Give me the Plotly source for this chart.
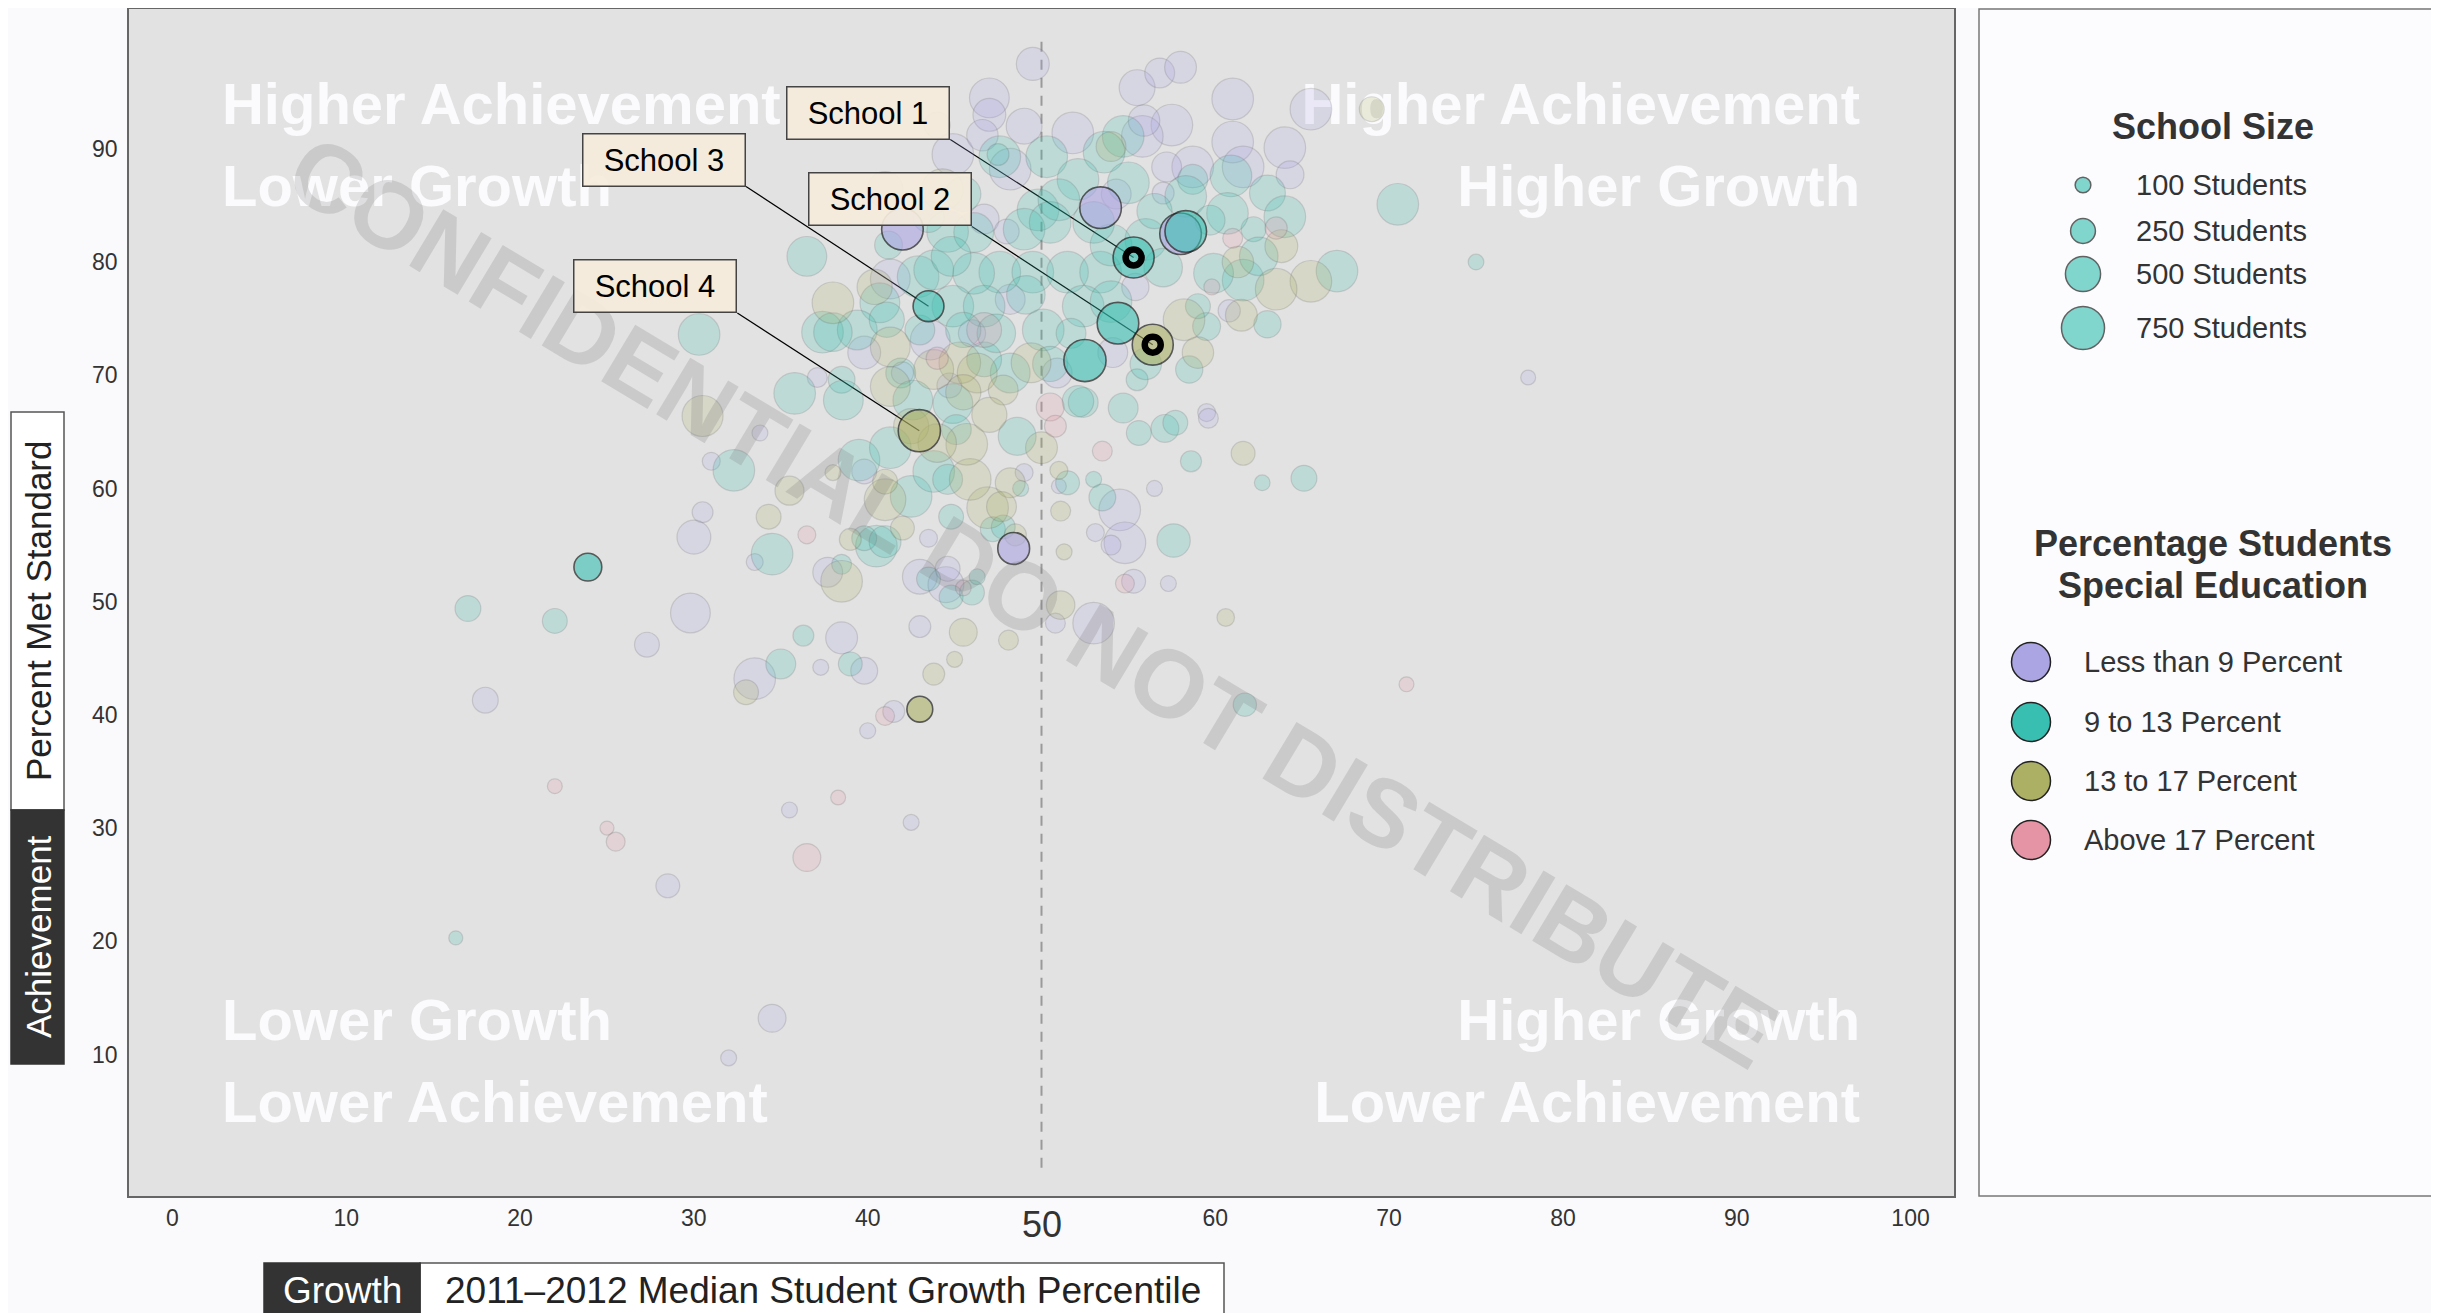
import plotly.graph_objects as go

W, H = 2439, 1313          # screen size of the reference
OFF = 8                    # page margin around the figure
FW, FH = W - OFF, H - OFF  # figure size
FONT = "Liberation Sans, Arial, Helvetica, sans-serif"

# ---------------- data (growth percentile, percent met standard, enrollment) ----------------
lav_growth = [49.5, 55.5, 56.8, 58.0, 61.0, 65.5, 51.8, 49.0, 57.5, 55.8,
              61.0, 64.0, 48.2, 58.7, 57.2, 61.6, 64.3, 57.0, 47.0, 47.0,
              44.9, 46.7, 41.3, 39.8, 43.6, 37.1, 48.0, 48.2, 54.1, 59.5,
              33.8, 31.0, 30.5, 30.0, 33.5, 37.7, 39.8, 43.5, 43.0, 44.5,
              44.6, 43.0, 29.8, 27.3, 38.5, 33.5, 37.3, 39.8, 41.5, 40.0,
              18.0, 28.5, 34.5, 32.0, 35.5, 42.5, 50.8, 53.0, 54.5, 53.1,
              54.8, 54.0, 55.3, 57.3, 59.6, 56.5, 51.0, 49.0, 78.0, 46.6,
              55.9, 46.0, 44.7, 42.0, 54.3, 55.4, 60.8, 50.9]
lav_ach = [97.5, 95.4, 96.7, 97.2, 94.4, 93.5, 91.4, 92.0, 92.1, 91.1,
           90.6, 90.1, 88.2, 88.4, 88.4, 88.4, 87.7, 86.1, 94.5, 93.0,
           89.5, 83.8, 78.5, 72.0, 73.1, 69.8, 82.7, 76.7, 72.0, 66.7,
           64.9, 62.4, 57.9, 55.7, 53.5, 52.6, 61.5, 55.6, 52.2, 51.5,
           52.9, 47.8, 49.0, 46.2, 46.8, 43.2, 44.2, 43.9, 40.3, 38.6,
           41.3, 24.9, 13.2, 9.7, 31.6, 30.5, 48.1, 48.1, 58.1, 56.1,
           55.2, 55.0, 51.8, 51.6, 66.2, 60.0, 60.2, 61.4, 69.8, 91.2,
           92.5, 73.7, 69.1, 70.2, 86.0, 77.8, 75.7, 70.2]
lav_size = [440, 520, 360, 410, 700, 700, 700, 520, 700, 700,
            700, 700, 700, 700, 360, 700, 314, 194, 640, 436,
            700, 360, 640, 436, 640, 160, 250, 360, 360, 130,
            103, 130, 177, 463, 116, 360, 250, 130, 490, 520,
            250, 194, 640, 250, 410, 700, 103, 292, 194, 103,
            270, 230, 314, 103, 103, 103, 160, 700, 700, 130,
            700, 160, 230, 103, 160, 103, 90, 130, 90, 400,
            400, 300, 250, 200, 360, 300, 200, 360]

teal_growth = [54.7, 53.6, 50.3, 60.9, 58.7, 55.0, 52.1, 49.8, 51.0, 58.3,
               63.0, 64.0, 62.2, 60.7, 59.7, 67.0, 61.6, 59.9, 59.5, 59.0,
               70.5, 47.6, 49.0, 50.5, 47.6, 49.5, 51.5, 53.4, 52.4, 50.1,
               51.7, 55.5, 52.4, 54.7, 48.2, 47.5, 41.2, 44.6, 46.1, 36.5,
               42.9, 43.8, 46.1, 40.7, 44.9, 46.7, 37.4, 39.4, 43.0, 46.7,
               30.3, 35.8, 38.5, 41.9, 38.6, 42.6, 44.9, 32.3, 34.5, 38.5,
               40.5, 39.8, 41.0, 42.5, 44.8, 47.2, 39.5, 43.8, 44.6, 45.1,
               41.3, 43.5, 44.8, 46.0, 46.3, 36.3, 35.0, 39.0, 17.0, 22.0,
               16.3, 57.6, 61.7, 65.1, 62.7, 58.6, 55.6, 57.1, 57.7, 53.0,
               53.5, 51.5, 48.6, 48.8, 47.8, 75.0, 49.1, 47.4, 52.1, 38.0,
               41.1, 56.0, 54.0, 57.0, 53.0, 56.5, 45.5, 44.8, 62.5, 63.0,
               58.5, 56.0, 54.0, 50.5, 43.5, 45.5]
teal_ach = [91.1, 89.7, 89.3, 87.6, 87.3, 87.0, 87.3, 84.6, 85.5, 85.8,
            86.1, 84.0, 82.9, 84.3, 83.7, 79.2, 78.4, 79.0, 74.3, 76.1,
            85.1, 89.3, 82.9, 83.5, 79.1, 79.1, 79.1, 79.1, 76.1, 74.0,
            73.7, 69.6, 67.6, 67.1, 70.2, 89.5, 81.5, 82.7, 82.6, 80.5,
            78.7, 79.3, 79.0, 76.4, 76.1, 76.1, 73.8, 74.0, 74.0, 71.4,
            73.6, 68.4, 69.6, 70.2, 67.8, 67.8, 67.5, 61.6, 54.2, 53.3,
            54.9, 55.6, 55.3, 59.3, 57.5, 56.4, 62.5, 61.5, 60.8, 65.2,
            63.6, 52.0, 50.4, 50.8, 52.2, 47.0, 44.5, 44.5, 49.4, 48.3,
            20.3, 55.4, 40.9, 60.9, 60.5, 62.4, 64.9, 65.3, 65.8, 60.8,
            59.2, 60.5, 64.6, 60.0, 56.6, 80.0, 77.1, 73.7, 67.7, 73.8,
            74.9, 82.0, 81.5, 79.5, 83.5, 84.5, 86.0, 80.5, 80.5, 74.5,
            70.5, 71.0, 76.5, 71.0, 84.0, 74.0]
teal_size = [700, 700, 700, 700, 360, 700, 700, 700, 700, 700,
             520, 700, 250, 700, 360, 700, 700, 640, 314, 250,
             700, 700, 700, 700, 700, 700, 700, 700, 700, 700,
             360, 194, 360, 360, 640, 194, 314, 700, 640, 640,
             700, 640, 700, 640, 700, 700, 700, 640, 360, 490,
             700, 700, 290, 360, 640, 640, 640, 700, 700, 160,
             700, 250, 410, 700, 250, 250, 700, 700, 360, 360,
             700, 230, 230, 250, 103, 177, 360, 230, 270, 250,
             80, 450, 220, 270, 100, 180, 250, 314, 250, 103,
             290, 230, 580, 103, 230, 100, 600, 600, 400, 600,
             500, 700, 700, 600, 700, 500, 500, 640, 600, 300,
             300, 400, 700, 500, 400, 500]

olive_growth = [54.0, 63.8, 65.5, 63.5, 61.5, 58.2, 69.0, 44.0, 41.0, 44.3,
                38.0, 41.3, 45.3, 41.3, 43.8, 46.3, 30.5, 35.5, 38.0, 34.3,
                38.5, 39.0, 42.0, 41.0, 46.9, 41.0, 45.9, 45.7, 45.5, 45.0,
                43.8, 33.0, 48.1, 51.1, 51.3, 51.1, 60.6, 61.6, 49.4, 47.8,
                50.0, 51.0, 48.2, 47.7, 48.5, 40.4, 61.3, 59.0, 44.0, 47.0,
                42.5, 45.5]
olive_ach = [90.2, 81.4, 78.3, 77.6, 75.3, 74.9, 93.5, 92.1, 86.4, 86.4,
             76.4, 72.5, 71.1, 69.0, 70.5, 70.2, 66.4, 59.8, 61.4, 57.5,
             51.8, 55.5, 56.5, 59.0, 58.3, 60.6, 60.8, 63.9, 47.3, 44.9,
             43.6, 42.0, 46.6, 49.7, 54.4, 58.0, 48.6, 63.1, 71.1, 68.7,
             63.6, 61.6, 60.5, 58.4, 55.9, 77.8, 80.0, 72.0, 64.0, 66.5,
             65.5, 68.5]
olive_size = [360, 436, 700, 700, 410, 700, 250, 270, 520, 700,
              700, 640, 700, 640, 640, 640, 680, 340, 103, 250,
              700, 194, 230, 700, 700, 250, 700, 700, 314, 103,
              194, 250, 160, 330, 103, 160, 125, 230, 640, 360,
              410, 130, 360, 360, 194, 500, 400, 400, 600, 500,
              500, 500]

pink_growth = [61.0, 59.8, 46.7, 50.5, 36.5, 45.5, 41.0, 38.3, 22.0, 25.0,
               25.5, 36.5, 53.5, 54.8, 71.0, 50.8, 44.0, 63.5]
pink_ach = [82.1, 77.8, 74.0, 67.2, 55.9, 51.2, 39.9, 32.7, 33.7, 30.0,
            28.8, 27.4, 63.3, 51.6, 42.7, 65.5, 71.5, 83.0]
pink_size = [160, 103, 490, 314, 130, 100, 145, 90, 90, 80,
             145, 314, 160, 145, 90, 194, 200, 200]

# highlighted (outlined) schools
hl_growth = [53.4, 58.0, 58.3, 54.4, 52.5, 42.0, 48.4, 23.9, 43.0]
hl_ach = [84.8, 82.5, 82.7, 74.6, 71.3, 82.9, 54.7, 53.05, 40.5]
hl_size = [700, 700, 700, 700, 720, 700, 410, 314, 270]
hl_group = ["lav", "lav", "teal", "teal", "teal", "lav", "lav", "teal", "olive"]

# labelled schools
school_names = ["School 1", "School 2", "School 3", "School 4"]
school_growth = [55.3, 56.4, 43.5, 42.97]
school_ach = [80.4, 72.7, 76.1, 65.1]
school_size = [680, 680, 385, 720]
school_group = ["teal", "olive", "teal", "olive"]
school_ring = [True, True, False, False]

x_ticks = [0, 10, 20, 30, 40, 50, 60, 70, 80, 90, 100]
y_ticks = [10, 20, 30, 40, 50, 60, 70, 80, 90]
median_growth = 50

group_keys = ["lav", "teal", "olive", "pink"]
group_labels = ["Less than 9 Percent", "9 to 13 Percent", "13 to 17 Percent", "Above 17 Percent"]
group_rgb = {"lav": (171, 165, 227), "teal": (56, 191, 177),
             "olive": (172, 176, 101), "pink": (229, 148, 166)}

size_legend_values = [100, 250, 500, 750]
size_legend_labels = ["100 Students", "250 Students", "500 Students", "750 Students"]

quad_text = ["Higher Achievement", "Lower Growth", "Higher Achievement", "Higher Growth",
             "Lower Growth", "Lower Achievement", "Higher Growth", "Lower Achievement"]

# ---------------- styling / layout helpers ----------------
SIZEREF = 0.81


def rgba(key, a):
    r, g, b = group_rgb[key]
    return f"rgba({r},{g},{b},{a})"


def px(X):
    """screen x (px) -> paper fraction"""
    return (X - OFF) / FW


def py(Y):
    """screen y (px) -> paper fraction"""
    return 1 - (Y - OFF) / FH


fig = go.Figure()

# quadrant captions (drawn first so bubbles sit on top)
quad_x = [2.85, 2.85, 97.1, 97.1, 2.85, 2.85, 97.1, 97.1]
quad_y = [93.5, 86.2, 93.5, 86.2, 12.6, 5.3, 12.6, 5.3]
quad_pos = ["middle right", "middle right", "middle left", "middle left",
            "middle right", "middle right", "middle left", "middle left"]
fig.add_trace(go.Scatter(x=quad_x, y=quad_y, mode="text", text=quad_text,
                         textposition=quad_pos,
                         textfont=dict(family=FONT, size=58, color="#FBFBFD", weight="bold"),
                         hoverinfo="skip", showlegend=False))

series = [("lav", lav_growth, lav_ach, lav_size),
          ("teal", teal_growth, teal_ach, teal_size),
          ("olive", olive_growth, olive_ach, olive_size),
          ("pink", pink_growth, pink_ach, pink_size)]
for key, gx, gy, gs in series:
    fig.add_trace(go.Scatter(
        x=gx, y=gy, mode="markers",
        marker=dict(size=gs, sizemode="area", sizeref=SIZEREF,
                    color=rgba(key, 0.3),
                    line=dict(color="rgba(90,90,90,0.28)", width=1.2)),
        hoverinfo="skip", showlegend=False))

fig.add_trace(go.Scatter(
    x=hl_growth, y=hl_ach, mode="markers",
    marker=dict(size=hl_size, sizemode="area", sizeref=SIZEREF,
                color=[rgba(k, 0.85) for k in hl_group],
                line=dict(color="#1e1e1e", width=1.6)),
    hoverinfo="skip", showlegend=False))

fig.add_trace(go.Scatter(
    x=school_growth, y=school_ach, mode="markers",
    marker=dict(size=school_size, sizemode="area", sizeref=SIZEREF,
                color=[rgba(k, 0.85) for k in school_group],
                line=dict(color="#1e1e1e", width=1.6)),
    hoverinfo="skip", showlegend=False))

ring_x = [g for g, r in zip(school_growth, school_ring) if r]
ring_y = [a for a, r in zip(school_ach, school_ring) if r]
fig.add_trace(go.Scatter(
    x=ring_x, y=ring_y, mode="markers",
    marker=dict(symbol="circle-open", size=16, color="black", line=dict(width=6.5, color="black")),
    hoverinfo="skip", showlegend=False))

# ---------------- legend (drawn on a hidden pixel-scaled axis) ----------------
TOP = 9          # screen y of the top edge of the plot and legend panel
LX0, LX1, LY0, LY1 = 1979, W, TOP, 1196
size_leg_y = [185, 231, 274, 328]
cat_leg_y = [662, 722, 781, 840]
fig.add_trace(go.Scatter(
    x=[2083] * 4, y=size_leg_y, xaxis="x2", yaxis="y2", mode="markers",
    marker=dict(size=size_legend_values, sizemode="area", sizeref=SIZEREF,
                color="rgba(56,191,177,0.9)", line=dict(color="#222", width=1.5)),
    hoverinfo="skip", showlegend=False))
fig.add_trace(go.Scatter(
    x=[2031] * 4, y=cat_leg_y, xaxis="x2", yaxis="y2", mode="markers",
    marker=dict(size=39, color=[rgba(k, 1.0) for k in group_keys],
                line=dict(color="#222", width=1.5)),
    hoverinfo="skip", showlegend=False))

ann = []
ann.append(dict(x=2213, y=126, xref="x2", yref="y2", text="<b>School Size</b>", showarrow=False,
                font=dict(family=FONT, size=36, color="#333"), xanchor="center", yanchor="middle"))
for lab, yy in zip(size_legend_labels, size_leg_y):
    ann.append(dict(x=2134, y=yy, xref="x2", yref="y2", text=lab, showarrow=False,
                    font=dict(family=FONT, size=29, color="#333"), xanchor="left", yanchor="middle"))
for txt, yy in zip(["Percentage Students", "Special Education"], [543, 585]):
    ann.append(dict(x=2213, y=yy, xref="x2", yref="y2", text="<b>%s</b>" % txt, showarrow=False,
                    font=dict(family=FONT, size=36, color="#333"), xanchor="center",
                    yanchor="middle"))
for lab, yy in zip(group_labels, cat_leg_y):
    ann.append(dict(x=2082, y=yy, xref="x2", yref="y2", text=lab, showarrow=False,
                    font=dict(family=FONT, size=29, color="#333"), xanchor="left", yanchor="middle"))

# watermark
ann.append(dict(x=49.5, y=50, xref="x", yref="y", text="CONFIDENTIAL DO NOT DISTRIBUTE",
                showarrow=False, textangle=31,
                font=dict(family=FONT, size=96, color="rgba(110,110,110,0.2)", weight="bold")))

# emphasised median tick label
ann.append(dict(x=median_growth, y=py(1224), xref="x", yref="paper", text=str(median_growth),
                showarrow=False, font=dict(family=FONT, size=36, color="#333"),
                xanchor="center", yanchor="middle"))

# school label boxes
label_x = [44.75, 46.0, 33.0, 32.5]
label_y = [90.82, 83.14, 86.67, 75.5]
for name, lx, ly in zip(school_names, label_x, label_y):
    ann.append(dict(x=lx, y=ly, xref="x", yref="y", text=name, showarrow=False,
                    xanchor="right", yanchor="bottom", width=157, height=47, borderpad=2,
                    bgcolor="rgba(245,236,220,0.92)", bordercolor="#444", borderwidth=1.5,
                    font=dict(family=FONT, size=31, color="black"), align="center", valign="middle"))

# axis titles
ann.append(dict(x=px(342), y=py(1290), xref="paper", yref="paper", text="Growth", showarrow=False,
                font=dict(family=FONT, size=37, color="white"), xanchor="center", yanchor="middle"))
ann.append(dict(x=px(823), y=py(1290), xref="paper", yref="paper",
                text="2011\u20132012 Median Student Growth Percentile", showarrow=False,
                font=dict(family=FONT, size=37, color="#222"), xanchor="center", yanchor="middle"))
ann.append(dict(x=px(38), y=py(611), xref="paper", yref="paper", text="Percent Met Standard",
                showarrow=False, textangle=-90,
                font=dict(family=FONT, size=35, color="#222"), xanchor="center", yanchor="middle"))
ann.append(dict(x=px(38), y=py(937), xref="paper", yref="paper", text="Achievement",
                showarrow=False, textangle=-90,
                font=dict(family=FONT, size=35, color="white"), xanchor="center", yanchor="middle"))

shapes = []
# plot background
shapes.append(dict(type="rect", xref="x domain", yref="y domain", x0=0, x1=1, y0=0, y1=1,
                   fillcolor="#E2E2E2", line=dict(width=0), layer="below"))
# median growth line
shapes.append(dict(type="line", xref="x", yref="y", x0=median_growth, x1=median_growth,
                   y0=0, y1=100, line=dict(color="#9a9a9a", width=2, dash="10px,8px"),
                   layer="below"))
# leader lines
for lx, ly, sx, sy in zip(label_x, label_y, school_growth, school_ach):
    shapes.append(dict(type="line", xref="x", yref="y", x0=lx, y0=ly, x1=sx, y1=sy,
                       line=dict(color="black", width=1.2), layer="below"))
# legend panel
shapes.append(dict(type="rect", xref="paper", yref="paper", x0=px(LX0), x1=px(W + 20),
                   y0=py(LY1), y1=py(LY0), fillcolor="#FCFCFF",
                   line=dict(color="#777", width=1.5), layer="below"))
# axis title boxes
shapes.append(dict(type="rect", xref="paper", yref="paper", x0=px(420), x1=px(1224),
                   y0=py(1330), y1=py(1263), fillcolor="white", line=dict(color="#555", width=1.5)))
shapes.append(dict(type="rect", xref="paper", yref="paper", x0=px(264), x1=px(420),
                   y0=py(1330), y1=py(1263), fillcolor="#333333", line=dict(color="#333", width=1.5)))
shapes.append(dict(type="rect", xref="paper", yref="paper", x0=px(11), x1=px(64),
                   y0=py(810), y1=py(412), fillcolor="white", line=dict(color="#555", width=1.5)))
shapes.append(dict(type="rect", xref="paper", yref="paper", x0=px(11), x1=px(64),
                   y0=py(1064), y1=py(810), fillcolor="#333333", line=dict(color="#333", width=1.5)))

x_ticktext = ["" if v == median_growth else str(v) for v in x_ticks]

fig.update_layout(
    width=FW, height=FH, margin=dict(l=0, r=0, t=0, b=0, pad=0),
    paper_bgcolor="#FAFAFD", plot_bgcolor="rgba(0,0,0,0)", showlegend=False,
    xaxis=dict(domain=[px(129), px(1954)], range=[-2.5, 102.5], tickvals=x_ticks, ticktext=x_ticktext,
               tickfont=dict(family=FONT, size=23, color="#333"), showgrid=False, zeroline=False,
               showline=True, mirror=True, linecolor="#666", linewidth=1.5, ticks="",
               ticklabelstandoff=1, anchor="y", fixedrange=True),
    yaxis=dict(domain=[py(1196), py(TOP)], range=[-2.5, 102.35], tickvals=y_ticks,
               tickfont=dict(family=FONT, size=23, color="#333"), showgrid=False, zeroline=False,
               showline=True, mirror=True, linecolor="#666", linewidth=1.5, ticks="",
               ticklabelstandoff=5, anchor="x", fixedrange=True),
    xaxis2=dict(domain=[px(LX0), 1], range=[LX0, W], visible=False, anchor="y2", fixedrange=True),
    yaxis2=dict(domain=[py(LY1), py(LY0)], range=[LY1, LY0], visible=False, anchor="x2",
                fixedrange=True),
    annotations=ann, shapes=shapes,
)

fig.write_html("out.html")
